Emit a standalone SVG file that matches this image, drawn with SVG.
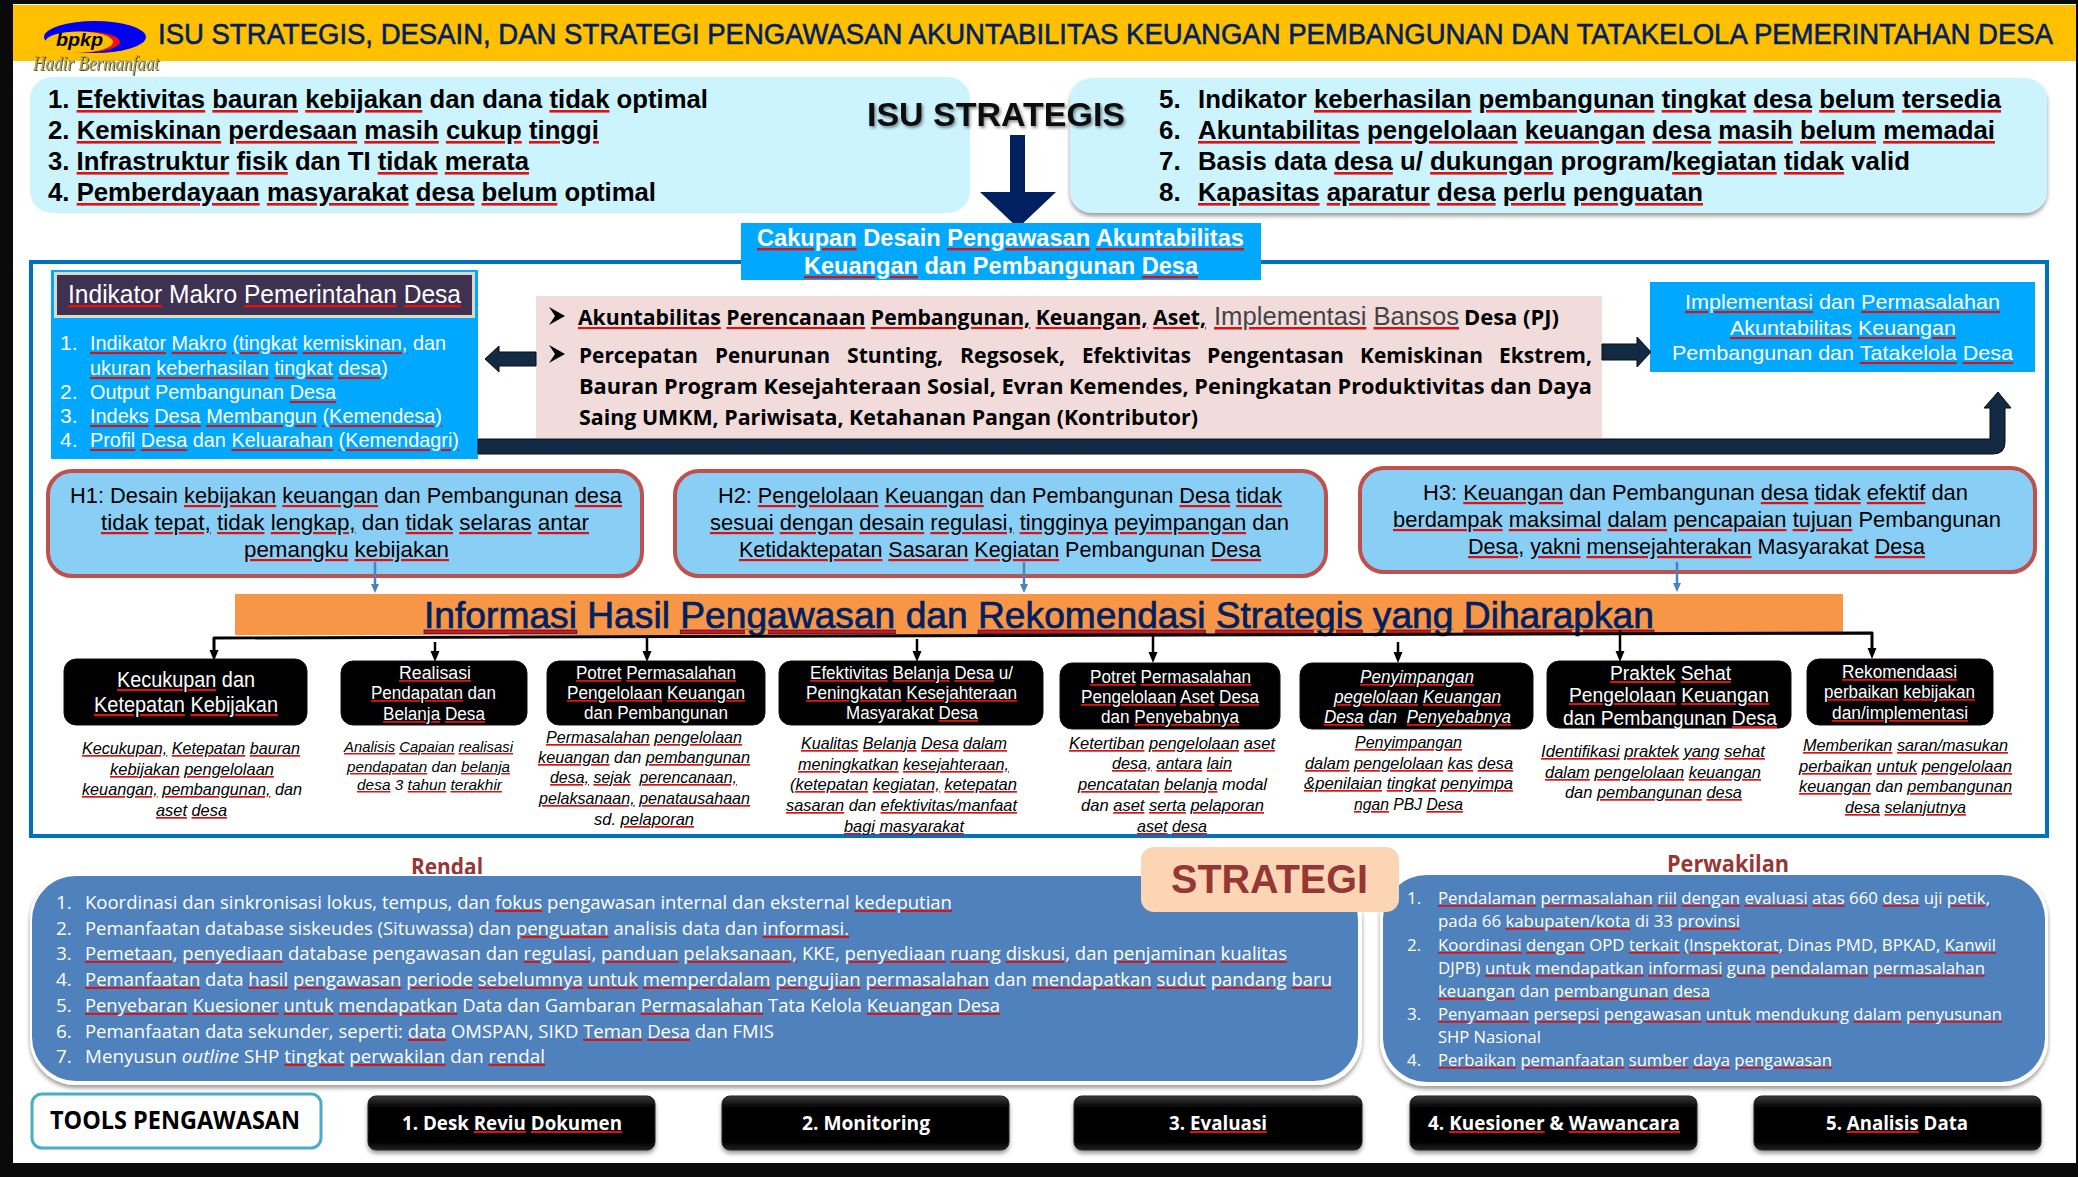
<svg xmlns="http://www.w3.org/2000/svg" width="2078" height="1177" viewBox="0 0 2078 1177">
<style>
text{font-family:"Liberation Sans",Arial,sans-serif;white-space:pre}
.o{font-family:"Open Sans","Noto Sans",sans-serif}
.k{fill:#000}.w{fill:#fff}
.u{text-decoration:underline wavy;text-decoration-thickness:1px;fill:#e01010}
.k .u>tspan{fill:#000}.w .u>tspan{fill:#fff}.n .u>tspan{fill:#002060}.r .u>tspan{fill:#953735}.g .u>tspan{fill:#444}
.n{fill:#002060}.r{fill:#953735}.g{fill:#444}
.iss{font-size:26px;font-weight:700}
.pk{font-size:21px;font-weight:700}
.lp{font-size:21px}
.h{font-size:22px}
.b1{font-size:22px}.b2{font-size:18px}.b7{font-size:20px}
.d{font-size:17px;font-style:italic}
.bl{font-size:19px}.br{font-size:17px}
.tool{font-size:20px;font-weight:700}
.btn{fill:url(#btn);stroke:#222;stroke-width:1;filter:url(#sh)}
.bk{fill:#000;stroke:#111}
.hb{fill:#89CFF5;stroke:#C0504D;stroke-width:4}
.ab{fill:#132A45;stroke:#0a0a0a;stroke-width:1}
</style>
<defs>
<linearGradient id="btn" x1="0" y1="0" x2="0" y2="1"><stop offset="0" stop-color="#3a3a3a"/><stop offset=".2" stop-color="#060606"/><stop offset=".85" stop-color="#000"/><stop offset="1" stop-color="#222"/></linearGradient>
<filter id="sh" x="-10%" y="-10%" width="120%" height="125%"><feDropShadow dx="0" dy="3" stdDeviation="2" flood-color="#000" flood-opacity=".4"/></filter>
<filter id="ts" x="-5%" y="-20%" width="110%" height="150%"><feDropShadow dx="1.500" dy="2" stdDeviation="1.500" flood-color="#000" flood-opacity=".45"/></filter>
<filter id="gs" x="-5%" y="-20%" width="110%" height="150%"><feDropShadow dx="1" dy="1" stdDeviation=".5" flood-color="#222" flood-opacity=".8"/></filter>
</defs>
<rect width="2078" height="1177" fill="#0a0a0a"/>
<rect x="13" y="4" width="2063" height="1159" fill="#fff"/>
<g id="header">
<rect x="13" y="5" width="2063" height="56" fill="#FFC000"/>
<text class="n" transform="translate(158 44) scale(1 1.180)" x="0" y="0" font-size="25" textLength="1895" lengthAdjust="spacingAndGlyphs" stroke="#002060" stroke-width=".5">ISU STRATEGIS, DESAIN, DAN STRATEGI PENGAWASAN AKUNTABILITAS KEUANGAN PEMBANGUNAN DAN TATAKELOLA PEMERINTAHAN DESA</text>
</g>
<g id="logo">
<ellipse cx="95" cy="37" rx="51" ry="16" fill="#0000F0"/>
<ellipse cx="84" cy="42" rx="36" ry="10.500" fill="#F01010"/>
<ellipse cx="79" cy="42" rx="34" ry="10.500" fill="#FFC000"/>
<text x="56" y="46" font-size="18" font-weight="700" font-style="italic" textLength="47" lengthAdjust="spacingAndGlyphs">bpkp</text>
<text x="33" y="70" font-size="22" font-style="italic" style="font-family:'Liberation Serif',serif" fill="#B5A642" filter="url(#gs)" textLength="126" lengthAdjust="spacingAndGlyphs">Hadir Bermanfaat</text>
</g>
<g id="isu-left">
<rect x="30" y="77" width="940" height="136" rx="22" fill="#CCF4FE"/>
<text class="k iss" x="48" y="108" textLength="660" lengthAdjust="spacingAndGlyphs">1. <tspan class="u"><tspan>Efektivitas</tspan></tspan> <tspan class="u"><tspan>bauran</tspan></tspan> <tspan class="u"><tspan>kebijakan</tspan></tspan> dan dana <tspan class="u"><tspan>tidak</tspan></tspan> optimal</text>
<text class="k iss" x="48" y="139" textLength="551" lengthAdjust="spacingAndGlyphs">2. <tspan class="u"><tspan>Kemiskinan</tspan></tspan> <tspan class="u"><tspan>perdesaan</tspan></tspan> <tspan class="u"><tspan>masih</tspan></tspan> <tspan class="u"><tspan>cukup</tspan></tspan> <tspan class="u"><tspan>tinggi</tspan></tspan></text>
<text class="k iss" x="48" y="170" textLength="481" lengthAdjust="spacingAndGlyphs">3. <tspan class="u"><tspan>Infrastruktur</tspan></tspan> <tspan class="u"><tspan>fisik</tspan></tspan> dan TI <tspan class="u"><tspan>tidak</tspan></tspan> <tspan class="u"><tspan>merata</tspan></tspan></text>
<text class="k iss" x="48" y="201" textLength="608" lengthAdjust="spacingAndGlyphs">4. <tspan class="u"><tspan>Pemberdayaan</tspan></tspan> <tspan class="u"><tspan>masyarakat</tspan></tspan> <tspan class="u"><tspan>desa</tspan></tspan> <tspan class="u"><tspan>belum</tspan></tspan> optimal</text>
</g>
<g id="isu-right">
<rect x="1070" y="78" width="977" height="135" rx="22" fill="#CCF4FE" filter="url(#sh)"/>
<text class="k iss" x="1159" y="108">5.</text><text class="k iss" x="1198" y="108" textLength="803" lengthAdjust="spacingAndGlyphs">Indikator <tspan class="u"><tspan>keberhasilan</tspan></tspan> <tspan class="u"><tspan>pembangunan</tspan></tspan> <tspan class="u"><tspan>tingkat</tspan></tspan> <tspan class="u"><tspan>desa</tspan></tspan> <tspan class="u"><tspan>belum</tspan></tspan> <tspan class="u"><tspan>tersedia</tspan></tspan></text>
<text class="k iss" x="1159" y="139">6.</text><text class="k iss" x="1198" y="139" textLength="797" lengthAdjust="spacingAndGlyphs"><tspan class="u"><tspan>Akuntabilitas</tspan></tspan> <tspan class="u"><tspan>pengelolaan</tspan></tspan> <tspan class="u"><tspan>keuangan</tspan></tspan> <tspan class="u"><tspan>desa</tspan></tspan> <tspan class="u"><tspan>masih</tspan></tspan> <tspan class="u"><tspan>belum</tspan></tspan> <tspan class="u"><tspan>memadai</tspan></tspan></text>
<text class="k iss" x="1159" y="170">7.</text><text class="k iss" x="1198" y="170" textLength="712" lengthAdjust="spacingAndGlyphs">Basis data <tspan class="u"><tspan>desa</tspan></tspan> u/ <tspan class="u"><tspan>dukungan</tspan></tspan> program/<tspan class="u"><tspan>kegiatan</tspan></tspan> <tspan class="u"><tspan>tidak</tspan></tspan> valid</text>
<text class="k iss" x="1159" y="201">8.</text><text class="k iss" x="1198" y="201" textLength="505" lengthAdjust="spacingAndGlyphs"><tspan class="u"><tspan>Kapasitas</tspan></tspan> <tspan class="u"><tspan>aparatur</tspan></tspan> <tspan class="u"><tspan>desa</tspan></tspan> <tspan class="u"><tspan>perlu</tspan></tspan> <tspan class="u"><tspan>penguatan</tspan></tspan></text>
</g>
<rect id="frame" x="31" y="262" width="2016" height="574" fill="none" stroke="#0070C0" stroke-width="4"/>
<g id="isu-title">
<text x="867" y="126" font-size="33" font-weight="700" fill="#111" filter="url(#ts)" textLength="258" lengthAdjust="spacingAndGlyphs">ISU STRATEGIS</text>
<path d="M1010,135H1025V192H1056L1018,228 980,192H1010Z" fill="#002060"/>
</g>
<g id="cakupan">
<rect x="741" y="223" width="520" height="57" fill="#00A8FF"/>
<text class="w" x="757" y="246" font-size="24" font-weight="700" textLength="487" lengthAdjust="spacingAndGlyphs"><tspan class="u"><tspan>Cakupan</tspan></tspan> Desain <tspan class="u"><tspan>Pengawasan</tspan></tspan> <tspan class="u"><tspan>Akuntabilitas</tspan></tspan></text>
<text class="w" x="804" y="274" font-size="24" font-weight="700" textLength="394" lengthAdjust="spacingAndGlyphs"><tspan class="u"><tspan>Keuangan</tspan></tspan> dan Pembangunan <tspan class="u"><tspan>Desa</tspan></tspan></text>
</g>
<g id="indikator">
<rect x="51" y="270" width="427" height="189" fill="#00A8FF"/>
<rect x="55.500" y="273.500" width="418" height="43" fill="#3F3151" stroke="#DDD9C3" stroke-width="3"/>
<text class="w" x="68" y="303" font-size="25" textLength="393" lengthAdjust="spacingAndGlyphs"><tspan class="u"><tspan>Indikator</tspan></tspan> Makro <tspan class="u"><tspan>Pemerintahan</tspan></tspan> <tspan class="u"><tspan>Desa</tspan></tspan></text>
<text class="w lp" x="60" y="350">1.</text><text class="w lp" x="90" y="350" textLength="356" lengthAdjust="spacingAndGlyphs"><tspan class="u"><tspan>Indikator</tspan></tspan> <tspan class="u"><tspan>Makro</tspan></tspan> <tspan class="u"><tspan>(tingkat</tspan></tspan> <tspan class="u"><tspan>kemiskinan,</tspan></tspan> dan</text>
<text class="w lp" x="90" y="375" textLength="298" lengthAdjust="spacingAndGlyphs"><tspan class="u"><tspan>ukuran</tspan></tspan> <tspan class="u"><tspan>keberhasilan</tspan></tspan> <tspan class="u"><tspan>tingkat</tspan></tspan> <tspan class="u"><tspan>desa)</tspan></tspan></text>
<text class="w lp" x="60" y="399">2.</text><text class="w lp" x="90" y="399" textLength="246" lengthAdjust="spacingAndGlyphs">Output Pembangunan <tspan class="u"><tspan>Desa</tspan></tspan></text>
<text class="w lp" x="60" y="423">3.</text><text class="w lp" x="90" y="423" textLength="352" lengthAdjust="spacingAndGlyphs"><tspan class="u"><tspan>Indeks</tspan></tspan> <tspan class="u"><tspan>Desa</tspan></tspan> <tspan class="u"><tspan>Membangun</tspan></tspan> <tspan class="u"><tspan>(Kemendesa)</tspan></tspan></text>
<text class="w lp" x="60" y="447">4.</text><text class="w lp" x="90" y="447" textLength="369" lengthAdjust="spacingAndGlyphs"><tspan class="u"><tspan>Profil</tspan></tspan> <tspan class="u"><tspan>Desa</tspan></tspan> dan <tspan class="u"><tspan>Keluarahan</tspan></tspan> <tspan class="u"><tspan>(Kemendagri)</tspan></tspan></text>
</g>
<g id="cakupan-detail">
<rect x="536" y="296" width="1066" height="142" fill="#F2DCDB"/>
<path d="M549,307L565,316 549,325 555,316ZM549,345L565,354 549,363 555,354Z" fill="#000"/>
<text class="k o pk" x="578" y="325" textLength="628" lengthAdjust="spacingAndGlyphs"><tspan class="u"><tspan>Akuntabilitas</tspan></tspan> <tspan class="u"><tspan>Perencanaan</tspan></tspan> <tspan class="u"><tspan>Pembangunan,</tspan></tspan> <tspan class="u"><tspan>Keuangan,</tspan></tspan> <tspan class="u"><tspan>Aset,</tspan></tspan></text>
<text class="g" x="1214" y="325" font-size="25" textLength="245" lengthAdjust="spacingAndGlyphs"><tspan class="u"><tspan>Implementasi</tspan></tspan> <tspan class="u"><tspan>Bansos</tspan></tspan></text>
<text class="k o pk" x="1464" y="325" textLength="95" lengthAdjust="spacingAndGlyphs">Desa (PJ)</text>
<text class="k o pk" x="579" y="363" textLength="119" lengthAdjust="spacingAndGlyphs">Percepatan</text>
<text class="k o pk" x="715" y="363" textLength="115" lengthAdjust="spacingAndGlyphs">Penurunan</text>
<text class="k o pk" x="847" y="363" textLength="96" lengthAdjust="spacingAndGlyphs">Stunting,</text>
<text class="k o pk" x="960" y="363" textLength="105" lengthAdjust="spacingAndGlyphs">Regsosek,</text>
<text class="k o pk" x="1082" y="363" textLength="109" lengthAdjust="spacingAndGlyphs">Efektivitas</text>
<text class="k o pk" x="1207" y="363" textLength="137" lengthAdjust="spacingAndGlyphs">Pengentasan</text>
<text class="k o pk" x="1360" y="363" textLength="123" lengthAdjust="spacingAndGlyphs">Kemiskinan</text>
<text class="k o pk" x="1499" y="363" textLength="93" lengthAdjust="spacingAndGlyphs">Ekstrem,</text>
<text class="k o pk" x="579" y="394" textLength="1013" lengthAdjust="spacingAndGlyphs">Bauran Program Kesejahteraan Sosial, Evran Kemendes, Peningkatan Produktivitas dan Daya</text>
<text class="k o pk" x="579" y="425" textLength="619" lengthAdjust="spacingAndGlyphs">Saing UMKM, Pariwisata, Ketahanan Pangan (Kontributor)</text>
</g>
<g id="implementasi">
<rect x="1650" y="282" width="385" height="90" fill="#00A8FF"/>
<text class="w lp" x="1685" y="309" textLength="315" lengthAdjust="spacingAndGlyphs"><tspan class="u"><tspan>Implementasi</tspan></tspan> dan <tspan class="u"><tspan>Permasalahan</tspan></tspan></text>
<text class="w lp" x="1730" y="335" textLength="226" lengthAdjust="spacingAndGlyphs"><tspan class="u"><tspan>Akuntabilitas</tspan></tspan> <tspan class="u"><tspan>Keuangan</tspan></tspan></text>
<text class="w lp" x="1672" y="360" textLength="341" lengthAdjust="spacingAndGlyphs">Pembangunan dan <tspan class="u"><tspan>Tatakelola</tspan></tspan> <tspan class="u"><tspan>Desa</tspan></tspan></text>
</g>
<g id="h1">
<rect class="hb" x="48" y="471" width="594" height="105" rx="24"/>
<text class="k h" x="70" y="503" textLength="552" lengthAdjust="spacingAndGlyphs">H1: Desain <tspan class="u"><tspan>kebijakan</tspan></tspan> <tspan class="u"><tspan>keuangan</tspan></tspan> dan Pembangunan <tspan class="u"><tspan>desa</tspan></tspan></text>
<text class="k h" x="101" y="530" textLength="488" lengthAdjust="spacingAndGlyphs"><tspan class="u"><tspan>tidak</tspan></tspan> <tspan class="u"><tspan>tepat,</tspan></tspan> <tspan class="u"><tspan>tidak</tspan></tspan> <tspan class="u"><tspan>lengkap,</tspan></tspan> dan <tspan class="u"><tspan>tidak</tspan></tspan> <tspan class="u"><tspan>selaras</tspan></tspan> <tspan class="u"><tspan>antar</tspan></tspan></text>
<text class="k h" x="244" y="557" textLength="205" lengthAdjust="spacingAndGlyphs"><tspan class="u"><tspan>pemangku</tspan></tspan> <tspan class="u"><tspan>kebijakan</tspan></tspan></text>
</g>
<g id="h2">
<rect class="hb" x="675" y="471" width="651" height="105" rx="24"/>
<text class="k h" x="718" y="503" textLength="564" lengthAdjust="spacingAndGlyphs">H2: <tspan class="u"><tspan>Pengelolaan</tspan></tspan> <tspan class="u"><tspan>Keuangan</tspan></tspan> dan Pembangunan <tspan class="u"><tspan>Desa</tspan></tspan> <tspan class="u"><tspan>tidak</tspan></tspan></text>
<text class="k h" x="710" y="530" textLength="579" lengthAdjust="spacingAndGlyphs"><tspan class="u"><tspan>sesuai</tspan></tspan> <tspan class="u"><tspan>dengan</tspan></tspan> <tspan class="u"><tspan>desain</tspan></tspan> <tspan class="u"><tspan>regulasi,</tspan></tspan> <tspan class="u"><tspan>tingginya</tspan></tspan> <tspan class="u"><tspan>peyimpangan</tspan></tspan> dan</text>
<text class="k h" x="739" y="557" textLength="522" lengthAdjust="spacingAndGlyphs"><tspan class="u"><tspan>Ketidaktepatan</tspan></tspan> <tspan class="u"><tspan>Sasaran</tspan></tspan> <tspan class="u"><tspan>Kegiatan</tspan></tspan> Pembangunan <tspan class="u"><tspan>Desa</tspan></tspan></text>
</g>
<g id="h3">
<rect class="hb" x="1360" y="468" width="675" height="104" rx="24"/>
<text class="k h" x="1423" y="500" textLength="545" lengthAdjust="spacingAndGlyphs">H3: <tspan class="u"><tspan>Keuangan</tspan></tspan> dan Pembangunan <tspan class="u"><tspan>desa</tspan></tspan> <tspan class="u"><tspan>tidak</tspan></tspan> <tspan class="u"><tspan>efektif</tspan></tspan> dan</text>
<text class="k h" x="1393" y="527" textLength="608" lengthAdjust="spacingAndGlyphs"><tspan class="u"><tspan>berdampak</tspan></tspan> <tspan class="u"><tspan>maksimal</tspan></tspan> <tspan class="u"><tspan>dalam</tspan></tspan> <tspan class="u"><tspan>pencapaian</tspan></tspan> <tspan class="u"><tspan>tujuan</tspan></tspan> Pembangunan</text>
<text class="k h" x="1468" y="554" textLength="457" lengthAdjust="spacingAndGlyphs"><tspan class="u"><tspan>Desa,</tspan></tspan> <tspan class="u"><tspan>yakni</tspan></tspan> <tspan class="u"><tspan>mensejahterakan</tspan></tspan> Masyarakat <tspan class="u"><tspan>Desa</tspan></tspan></text>
</g>
<g id="informasi">
<rect x="235" y="594" width="1608" height="41" fill="#F79646"/>
<text class="n" x="424" y="628" font-size="37" stroke="#002060" stroke-width=".7" textLength="1230" lengthAdjust="spacingAndGlyphs"><tspan class="u"><tspan>Informasi</tspan></tspan> Hasil <tspan class="u"><tspan>Pengawasan</tspan></tspan> dan <tspan class="u"><tspan>Rekomendasi</tspan></tspan> <tspan class="u"><tspan>Strategis</tspan></tspan> <tspan class="u"><tspan>yang</tspan></tspan> <tspan class="u"><tspan>Diharapkan</tspan></tspan></text>
</g>
<g id="connectors">
<path class="ab" d="M536,352H499V346L485,359 499,372V366H536Z"/>
<path class="ab" d="M1602,344H1637V337L1651,352 1637,367V360H1602Z"/>
<path class="ab" d="M478,439H1990V408H1984L1998,392 2011,408H2005V442Q2005,454 1993,454H478Z"/>
<path d="M375,562V586M1024,562V586M1677,562V586" stroke="#4F81BD" stroke-width="2.500" fill="none"/>
<path d="M371,584H379L375,593ZM1020,584H1028L1024,593ZM1673,583H1681L1677,592Z" fill="#4F81BD"/>
<path d="M214,652V638L1872,633V652" stroke="#000" stroke-width="3" stroke-linejoin="round" fill="none"/>
<path d="M435,642V655M647,637V655M917,639V655M1153,633V656M1398,642V656M1620,630V655" stroke="#000" stroke-width="2.500" fill="none"/>
<path d="M209.500,650H218.500L214,661ZM430.500,651H439.500L435,662ZM642.500,651H651.500L647,662ZM912.500,651H921.500L917,662ZM1148.500,652H1157.500L1153,663ZM1393.500,652H1402.500L1398,663ZM1615.500,651H1624.500L1620,662ZM1867.500,648H1876.500L1872,659Z" fill="#000"/>
</g>
<g id="item1">
<rect class="bk" x="64" y="659" width="243" height="66" rx="12"/>
<text class="w b1" x="117" y="687" textLength="138" lengthAdjust="spacingAndGlyphs"><tspan class="u"><tspan>Kecukupan</tspan></tspan> dan</text>
<text class="w b1" x="94" y="712" textLength="184" lengthAdjust="spacingAndGlyphs"><tspan class="u"><tspan>Ketepatan</tspan></tspan> <tspan class="u"><tspan>Kebijakan</tspan></tspan></text>
<text class="k d" x="82" y="754" textLength="218" lengthAdjust="spacingAndGlyphs"><tspan class="u"><tspan>Kecukupan,</tspan></tspan> <tspan class="u"><tspan>Ketepatan</tspan></tspan> <tspan class="u"><tspan>bauran</tspan></tspan></text>
<text class="k d" x="110" y="775" textLength="164" lengthAdjust="spacingAndGlyphs"><tspan class="u"><tspan>kebijakan</tspan></tspan> <tspan class="u"><tspan>pengelolaan</tspan></tspan></text>
<text class="k d" x="82" y="795" textLength="220" lengthAdjust="spacingAndGlyphs"><tspan class="u"><tspan>keuangan,</tspan></tspan> <tspan class="u"><tspan>pembangunan,</tspan></tspan> dan</text>
<text class="k d" x="156" y="816" textLength="71" lengthAdjust="spacingAndGlyphs"><tspan class="u"><tspan>aset</tspan></tspan> <tspan class="u"><tspan>desa</tspan></tspan></text>
</g>
<g id="item2">
<rect class="bk" x="341" y="661" width="186" height="64" rx="12"/>
<text class="w b2" x="399" y="679" textLength="72" lengthAdjust="spacingAndGlyphs"><tspan class="u"><tspan>Realisasi</tspan></tspan></text>
<text class="w b2" x="371" y="699" textLength="125" lengthAdjust="spacingAndGlyphs"><tspan class="u"><tspan>Pendapatan</tspan></tspan> dan</text>
<text class="w b2" x="383" y="720" textLength="102" lengthAdjust="spacingAndGlyphs"><tspan class="u"><tspan>Belanja</tspan></tspan> <tspan class="u"><tspan>Desa</tspan></tspan></text>
<text class="k d" x="344" y="752" textLength="169" lengthAdjust="spacingAndGlyphs" style="font-size:15px"><tspan class="u"><tspan>Analisis</tspan></tspan> <tspan class="u"><tspan>Capaian</tspan></tspan> <tspan class="u"><tspan>realisasi</tspan></tspan></text>
<text class="k d" x="347" y="772" textLength="163" lengthAdjust="spacingAndGlyphs" style="font-size:15px"><tspan class="u"><tspan>pendapatan</tspan></tspan> dan <tspan class="u"><tspan>belanja</tspan></tspan></text>
<text class="k d" x="357" y="790" textLength="145" lengthAdjust="spacingAndGlyphs" style="font-size:15px"><tspan class="u"><tspan>desa</tspan></tspan> 3 <tspan class="u"><tspan>tahun</tspan></tspan> <tspan class="u"><tspan>terakhir</tspan></tspan></text>
</g>
<g id="item3">
<rect class="bk" x="547" y="661" width="218" height="64" rx="12"/>
<text class="w b2" x="576" y="679" textLength="160" lengthAdjust="spacingAndGlyphs"><tspan class="u"><tspan>Potret</tspan></tspan> <tspan class="u"><tspan>Permasalahan</tspan></tspan></text>
<text class="w b2" x="567" y="699" textLength="178" lengthAdjust="spacingAndGlyphs"><tspan class="u"><tspan>Pengelolaan</tspan></tspan> <tspan class="u"><tspan>Keuangan</tspan></tspan></text>
<text class="w b2" x="584" y="719" textLength="144" lengthAdjust="spacingAndGlyphs">dan Pembangunan</text>
<text class="k d" x="546" y="743" textLength="196" lengthAdjust="spacingAndGlyphs"><tspan class="u"><tspan>Permasalahan</tspan></tspan> <tspan class="u"><tspan>pengelolaan</tspan></tspan></text>
<text class="k d" x="538" y="763" textLength="212" lengthAdjust="spacingAndGlyphs"><tspan class="u"><tspan>keuangan</tspan></tspan> dan <tspan class="u"><tspan>pembangunan</tspan></tspan></text>
<text class="k d" x="550" y="783" textLength="187" lengthAdjust="spacingAndGlyphs"><tspan class="u"><tspan>desa,</tspan></tspan> <tspan class="u"><tspan>sejak</tspan></tspan>  <tspan class="u"><tspan>perencanaan,</tspan></tspan></text>
<text class="k d" x="539" y="804" textLength="211" lengthAdjust="spacingAndGlyphs"><tspan class="u"><tspan>pelaksanaan,</tspan></tspan> <tspan class="u"><tspan>penatausahaan</tspan></tspan></text>
<text class="k d" x="594" y="825" textLength="100" lengthAdjust="spacingAndGlyphs">sd. <tspan class="u"><tspan>pelaporan</tspan></tspan></text>
</g>
<g id="item4">
<rect class="bk" x="779" y="661" width="264" height="64" rx="12"/>
<text class="w b2" x="810" y="679" textLength="203" lengthAdjust="spacingAndGlyphs"><tspan class="u"><tspan>Efektivitas</tspan></tspan> <tspan class="u"><tspan>Belanja</tspan></tspan> <tspan class="u"><tspan>Desa</tspan></tspan> u/</text>
<text class="w b2" x="806" y="699" textLength="211" lengthAdjust="spacingAndGlyphs"><tspan class="u"><tspan>Peningkatan</tspan></tspan> <tspan class="u"><tspan>Kesejahteraan</tspan></tspan></text>
<text class="w b2" x="846" y="719" textLength="132" lengthAdjust="spacingAndGlyphs">Masyarakat <tspan class="u"><tspan>Desa</tspan></tspan></text>
<text class="k d" x="801" y="749" textLength="206" lengthAdjust="spacingAndGlyphs"><tspan class="u"><tspan>Kualitas</tspan></tspan> <tspan class="u"><tspan>Belanja</tspan></tspan> <tspan class="u"><tspan>Desa</tspan></tspan> <tspan class="u"><tspan>dalam</tspan></tspan></text>
<text class="k d" x="798" y="770" textLength="211" lengthAdjust="spacingAndGlyphs"><tspan class="u"><tspan>meningkatkan</tspan></tspan> <tspan class="u"><tspan>kesejahteraan,</tspan></tspan></text>
<text class="k d" x="790" y="790" textLength="227" lengthAdjust="spacingAndGlyphs"><tspan class="u"><tspan>(ketepatan</tspan></tspan> <tspan class="u"><tspan>kegiatan,</tspan></tspan> <tspan class="u"><tspan>ketepatan</tspan></tspan></text>
<text class="k d" x="786" y="811" textLength="231" lengthAdjust="spacingAndGlyphs"><tspan class="u"><tspan>sasaran</tspan></tspan> dan <tspan class="u"><tspan>efektivitas/manfaat</tspan></tspan></text>
<text class="k d" x="844" y="832" textLength="120" lengthAdjust="spacingAndGlyphs"><tspan class="u"><tspan>bagi</tspan></tspan> <tspan class="u"><tspan>masyarakat</tspan></tspan></text>
</g>
<g id="item5">
<rect class="bk" x="1060" y="663" width="220" height="66" rx="12"/>
<text class="w b2" x="1090" y="683" textLength="161" lengthAdjust="spacingAndGlyphs"><tspan class="u"><tspan>Potret</tspan></tspan> <tspan class="u"><tspan>Permasalahan</tspan></tspan></text>
<text class="w b2" x="1081" y="703" textLength="178" lengthAdjust="spacingAndGlyphs"><tspan class="u"><tspan>Pengelolaan</tspan></tspan> <tspan class="u"><tspan>Aset</tspan></tspan> <tspan class="u"><tspan>Desa</tspan></tspan></text>
<text class="w b2" x="1101" y="723" textLength="138" lengthAdjust="spacingAndGlyphs">dan <tspan class="u"><tspan>Penyebabnya</tspan></tspan></text>
<text class="k d" x="1069" y="749" textLength="206" lengthAdjust="spacingAndGlyphs"><tspan class="u"><tspan>Ketertiban</tspan></tspan> <tspan class="u"><tspan>pengelolaan</tspan></tspan> <tspan class="u"><tspan>aset</tspan></tspan></text>
<text class="k d" x="1112" y="769" textLength="120" lengthAdjust="spacingAndGlyphs"><tspan class="u"><tspan>desa,</tspan></tspan> <tspan class="u"><tspan>antara</tspan></tspan> <tspan class="u"><tspan>lain</tspan></tspan></text>
<text class="k d" x="1078" y="790" textLength="189" lengthAdjust="spacingAndGlyphs"><tspan class="u"><tspan>pencatatan</tspan></tspan> <tspan class="u"><tspan>belanja</tspan></tspan> modal</text>
<text class="k d" x="1081" y="811" textLength="183" lengthAdjust="spacingAndGlyphs">dan <tspan class="u"><tspan>aset</tspan></tspan> <tspan class="u"><tspan>serta</tspan></tspan> <tspan class="u"><tspan>pelaporan</tspan></tspan></text>
<text class="k d" x="1137" y="832" textLength="70" lengthAdjust="spacingAndGlyphs"><tspan class="u"><tspan>aset</tspan></tspan> <tspan class="u"><tspan>desa</tspan></tspan></text>
</g>
<g id="item6">
<rect class="bk" x="1300" y="663" width="233" height="66" rx="12"/>
<text class="w b2" font-style="italic" x="1360" y="683" textLength="114" lengthAdjust="spacingAndGlyphs"><tspan class="u"><tspan>Penyimpangan</tspan></tspan></text>
<text class="w b2" font-style="italic" x="1334" y="703" textLength="167" lengthAdjust="spacingAndGlyphs"><tspan class="u"><tspan>pegelolaan</tspan></tspan> <tspan class="u"><tspan>Keuangan</tspan></tspan></text>
<text class="w b2" font-style="italic" x="1324" y="723" textLength="187" lengthAdjust="spacingAndGlyphs"><tspan class="u"><tspan>Desa</tspan></tspan> dan  <tspan class="u"><tspan>Penyebabnya</tspan></tspan></text>
<text class="k d" x="1355" y="748" textLength="107" lengthAdjust="spacingAndGlyphs"><tspan class="u"><tspan>Penyimpangan</tspan></tspan></text>
<text class="k d" x="1305" y="769" textLength="208" lengthAdjust="spacingAndGlyphs"><tspan class="u"><tspan>dalam</tspan></tspan> <tspan class="u"><tspan>pengelolaan</tspan></tspan> <tspan class="u"><tspan>kas</tspan></tspan> <tspan class="u"><tspan>desa</tspan></tspan></text>
<text class="k d" x="1304" y="789" textLength="209" lengthAdjust="spacingAndGlyphs"><tspan class="u"><tspan>&amp;penilaian</tspan></tspan> <tspan class="u"><tspan>tingkat</tspan></tspan> <tspan class="u"><tspan>penyimpa</tspan></tspan></text>
<text class="k d" x="1354" y="810" textLength="109" lengthAdjust="spacingAndGlyphs"><tspan class="u"><tspan>ngan</tspan></tspan> PBJ <tspan class="u"><tspan>Desa</tspan></tspan></text>
</g>
<g id="item7">
<rect class="bk" x="1547" y="661" width="244" height="67" rx="12"/>
<text class="w b7" x="1610" y="680" textLength="121" lengthAdjust="spacingAndGlyphs"><tspan class="u"><tspan>Praktek</tspan></tspan> <tspan class="u"><tspan>Sehat</tspan></tspan></text>
<text class="w b7" x="1569" y="702" textLength="200" lengthAdjust="spacingAndGlyphs"><tspan class="u"><tspan>Pengelolaan</tspan></tspan> <tspan class="u"><tspan>Keuangan</tspan></tspan></text>
<text class="w b7" x="1563" y="725" textLength="214" lengthAdjust="spacingAndGlyphs">dan Pembangunan <tspan class="u"><tspan>Desa</tspan></tspan></text>
<text class="k d" x="1541" y="757" textLength="224" lengthAdjust="spacingAndGlyphs"><tspan class="u"><tspan>Identifikasi</tspan></tspan> <tspan class="u"><tspan>praktek</tspan></tspan> <tspan class="u"><tspan>yang</tspan></tspan> <tspan class="u"><tspan>sehat</tspan></tspan></text>
<text class="k d" x="1545" y="778" textLength="216" lengthAdjust="spacingAndGlyphs"><tspan class="u"><tspan>dalam</tspan></tspan> <tspan class="u"><tspan>pengelolaan</tspan></tspan> <tspan class="u"><tspan>keuangan</tspan></tspan></text>
<text class="k d" x="1565" y="798" textLength="177" lengthAdjust="spacingAndGlyphs">dan <tspan class="u"><tspan>pembangunan</tspan></tspan> <tspan class="u"><tspan>desa</tspan></tspan></text>
</g>
<g id="item8">
<rect class="bk" x="1807" y="659" width="186" height="66" rx="12"/>
<text class="w b2" x="1842" y="678" textLength="115" lengthAdjust="spacingAndGlyphs"><tspan class="u"><tspan>Rekomendaasi</tspan></tspan></text>
<text class="w b2" x="1824" y="698" textLength="151" lengthAdjust="spacingAndGlyphs"><tspan class="u"><tspan>perbaikan</tspan></tspan> <tspan class="u"><tspan>kebijakan</tspan></tspan></text>
<text class="w b2" x="1832" y="719" textLength="136" lengthAdjust="spacingAndGlyphs"><tspan class="u"><tspan>dan/implementasi</tspan></tspan></text>
<text class="k d" x="1803" y="751" textLength="205" lengthAdjust="spacingAndGlyphs"><tspan class="u"><tspan>Memberikan</tspan></tspan> <tspan class="u"><tspan>saran/masukan</tspan></tspan></text>
<text class="k d" x="1799" y="772" textLength="213" lengthAdjust="spacingAndGlyphs"><tspan class="u"><tspan>perbaikan</tspan></tspan> <tspan class="u"><tspan>untuk</tspan></tspan> <tspan class="u"><tspan>pengelolaan</tspan></tspan></text>
<text class="k d" x="1799" y="792" textLength="213" lengthAdjust="spacingAndGlyphs"><tspan class="u"><tspan>keuangan</tspan></tspan> dan <tspan class="u"><tspan>pembangunan</tspan></tspan></text>
<text class="k d" x="1845" y="813" textLength="121" lengthAdjust="spacingAndGlyphs"><tspan class="u"><tspan>desa</tspan></tspan> <tspan class="u"><tspan>selanjutnya</tspan></tspan></text>
</g>
<g id="rendal">
<text class="r o" x="411" y="875" font-size="23" font-weight="700" textLength="72" lengthAdjust="spacingAndGlyphs">Rendal</text>
<rect x="30" y="874" width="1332" height="211" rx="46" fill="#fff" filter="url(#sh)"/>
<rect x="32" y="876" width="1326" height="205" rx="44" fill="#4F81BD"/>
<text class="w o bl" x="56" y="909">1.</text><text class="w o bl" x="85" y="909" textLength="867" lengthAdjust="spacingAndGlyphs">Koordinasi dan sinkronisasi lokus, tempus, dan <tspan class="u"><tspan>fokus</tspan></tspan> pengawasan internal dan eksternal <tspan class="u"><tspan>kedeputian</tspan></tspan></text>
<text class="w o bl" x="56" y="935">2.</text><text class="w o bl" x="85" y="935" textLength="764" lengthAdjust="spacingAndGlyphs">Pemanfaatan database siskeudes (Situwassa) dan <tspan class="u"><tspan>penguatan</tspan></tspan> analisis data dan <tspan class="u"><tspan>informasi.</tspan></tspan></text>
<text class="w o bl" x="56" y="960">3.</text><text class="w o bl" x="85" y="960" textLength="1202" lengthAdjust="spacingAndGlyphs"><tspan class="u"><tspan>Pemetaan,</tspan></tspan> <tspan class="u"><tspan>penyediaan</tspan></tspan> database pengawasan dan <tspan class="u"><tspan>regulasi,</tspan></tspan> <tspan class="u"><tspan>panduan</tspan></tspan> <tspan class="u"><tspan>pelaksanaan,</tspan></tspan> KKE, <tspan class="u"><tspan>penyediaan</tspan></tspan> <tspan class="u"><tspan>ruang</tspan></tspan> <tspan class="u"><tspan>diskusi,</tspan></tspan> dan <tspan class="u"><tspan>penjaminan</tspan></tspan> <tspan class="u"><tspan>kualitas</tspan></tspan></text>
<text class="w o bl" x="56" y="986">4.</text><text class="w o bl" x="85" y="986" textLength="1247" lengthAdjust="spacingAndGlyphs"><tspan class="u"><tspan>Pemanfaatan</tspan></tspan> data <tspan class="u"><tspan>hasil</tspan></tspan> <tspan class="u"><tspan>pengawasan</tspan></tspan> <tspan class="u"><tspan>periode</tspan></tspan> <tspan class="u"><tspan>sebelumnya</tspan></tspan> <tspan class="u"><tspan>untuk</tspan></tspan> <tspan class="u"><tspan>memperdalam</tspan></tspan> <tspan class="u"><tspan>pengujian</tspan></tspan> <tspan class="u"><tspan>permasalahan</tspan></tspan> dan <tspan class="u"><tspan>mendapatkan</tspan></tspan> <tspan class="u"><tspan>sudut</tspan></tspan> <tspan class="u"><tspan>pandang</tspan></tspan> <tspan class="u"><tspan>baru</tspan></tspan></text>
<text class="w o bl" x="56" y="1012">5.</text><text class="w o bl" x="85" y="1012" textLength="915" lengthAdjust="spacingAndGlyphs"><tspan class="u"><tspan>Penyebaran</tspan></tspan> <tspan class="u"><tspan>Kuesioner</tspan></tspan> <tspan class="u"><tspan>untuk</tspan></tspan> <tspan class="u"><tspan>mendapatkan</tspan></tspan> Data dan Gambaran <tspan class="u"><tspan>Permasalahan</tspan></tspan> Tata Kelola <tspan class="u"><tspan>Keuangan</tspan></tspan> <tspan class="u"><tspan>Desa</tspan></tspan></text>
<text class="w o bl" x="56" y="1038">6.</text><text class="w o bl" x="85" y="1038" textLength="689" lengthAdjust="spacingAndGlyphs">Pemanfaatan data sekunder, seperti: <tspan class="u"><tspan>data</tspan></tspan> OMSPAN, SIKD <tspan class="u"><tspan>Teman</tspan></tspan> <tspan class="u"><tspan>Desa</tspan></tspan> dan FMIS</text>
<text class="w o bl" x="56" y="1063">7.</text><text class="w o bl" x="85" y="1063" textLength="460" lengthAdjust="spacingAndGlyphs">Menyusun <tspan font-style="italic">outline</tspan> SHP <tspan class="u"><tspan>tingkat</tspan></tspan> <tspan class="u"><tspan>perwakilan</tspan></tspan> dan <tspan class="u"><tspan>rendal</tspan></tspan></text>
</g>
<g id="perwakilan">
<text class="r o" x="1667" y="872" font-size="23" font-weight="700" textLength="122" lengthAdjust="spacingAndGlyphs"><tspan class="u"><tspan>Perwakilan</tspan></tspan></text>
<rect x="1380" y="872" width="668" height="214" rx="46" fill="#fff" filter="url(#sh)"/>
<rect x="1383" y="875" width="662" height="207" rx="44" fill="#4F81BD"/>
<text class="w o br" x="1407" y="904">1.</text><text class="w o br" x="1438" y="904" textLength="552" lengthAdjust="spacingAndGlyphs"><tspan class="u"><tspan>Pendalaman</tspan></tspan> <tspan class="u"><tspan>permasalahan</tspan></tspan> <tspan class="u"><tspan>riil</tspan></tspan> <tspan class="u"><tspan>dengan</tspan></tspan> <tspan class="u"><tspan>evaluasi</tspan></tspan> <tspan class="u"><tspan>atas</tspan></tspan> 660 <tspan class="u"><tspan>desa</tspan></tspan> uji <tspan class="u"><tspan>petik,</tspan></tspan></text>
<text class="w o br" x="1438" y="927" textLength="302" lengthAdjust="spacingAndGlyphs">pada 66 <tspan class="u"><tspan>kabupaten/kota</tspan></tspan> di 33 <tspan class="u"><tspan>provinsi</tspan></tspan></text>
<text class="w o br" x="1407" y="951">2.</text><text class="w o br" x="1438" y="951" textLength="558" lengthAdjust="spacingAndGlyphs"><tspan class="u"><tspan>Koordinasi</tspan></tspan> <tspan class="u"><tspan>dengan</tspan></tspan> OPD <tspan class="u"><tspan>terkait</tspan></tspan> <tspan class="u"><tspan>(Inspektorat,</tspan></tspan> Dinas PMD, BPKAD, <tspan class="u"><tspan>Kanwil</tspan></tspan></text>
<text class="w o br" x="1438" y="974" textLength="547" lengthAdjust="spacingAndGlyphs">DJPB) <tspan class="u"><tspan>untuk</tspan></tspan> <tspan class="u"><tspan>mendapatkan</tspan></tspan> <tspan class="u"><tspan>informasi</tspan></tspan> <tspan class="u"><tspan>guna</tspan></tspan> <tspan class="u"><tspan>pendalaman</tspan></tspan> <tspan class="u"><tspan>permasalahan</tspan></tspan></text>
<text class="w o br" x="1438" y="997" textLength="272" lengthAdjust="spacingAndGlyphs"><tspan class="u"><tspan>keuangan</tspan></tspan> dan <tspan class="u"><tspan>pembangunan</tspan></tspan> <tspan class="u"><tspan>desa</tspan></tspan></text>
<text class="w o br" x="1407" y="1020">3.</text><text class="w o br" x="1438" y="1020" textLength="564" lengthAdjust="spacingAndGlyphs"><tspan class="u"><tspan>Penyamaan</tspan></tspan> <tspan class="u"><tspan>persepsi</tspan></tspan> <tspan class="u"><tspan>pengawasan</tspan></tspan> <tspan class="u"><tspan>untuk</tspan></tspan> <tspan class="u"><tspan>mendukung</tspan></tspan> <tspan class="u"><tspan>dalam</tspan></tspan> <tspan class="u"><tspan>penyusunan</tspan></tspan></text>
<text class="w o br" x="1438" y="1043" textLength="103" lengthAdjust="spacingAndGlyphs">SHP Nasional</text>
<text class="w o br" x="1407" y="1066">4.</text><text class="w o br" x="1438" y="1066" textLength="394" lengthAdjust="spacingAndGlyphs"><tspan class="u"><tspan>Perbaikan</tspan></tspan> <tspan class="u"><tspan>pemanfaatan</tspan></tspan> <tspan class="u"><tspan>sumber</tspan></tspan> <tspan class="u"><tspan>daya</tspan></tspan> <tspan class="u"><tspan>pengawasan</tspan></tspan></text>
</g>
<g id="strategi">
<rect x="1141" y="847" width="258" height="65" rx="13" fill="#FCD5B5"/>
<text class="r" x="1171" y="893" font-size="40" font-weight="700" textLength="197" lengthAdjust="spacingAndGlyphs">STRATEGI</text>
</g>
<g id="tools">
<rect x="32" y="1094" width="289" height="54" rx="10" fill="#fff" stroke="#4BACC6" stroke-width="3"/>
<text class="k o" x="50" y="1129" font-size="25" font-weight="700" textLength="250" lengthAdjust="spacingAndGlyphs">TOOLS PENGAWASAN</text>
</g>
<g id="tool1"><rect class="btn" x="368" y="1096" width="287" height="54" rx="8"/><text class="w o tool" x="402" y="1130" textLength="220" lengthAdjust="spacingAndGlyphs">1. Desk <tspan class="u"><tspan>Reviu</tspan></tspan> <tspan class="u"><tspan>Dokumen</tspan></tspan></text></g>
<g id="tool2"><rect class="btn" x="722" y="1096" width="287" height="54" rx="8"/><text class="w o tool" x="802" y="1130" textLength="128" lengthAdjust="spacingAndGlyphs">2. Monitoring</text></g>
<g id="tool3"><rect class="btn" x="1074" y="1096" width="288" height="54" rx="8"/><text class="w o tool" x="1169" y="1130" textLength="98" lengthAdjust="spacingAndGlyphs">3. <tspan class="u"><tspan>Evaluasi</tspan></tspan></text></g>
<g id="tool4"><rect class="btn" x="1410" y="1096" width="287" height="54" rx="8"/><text class="w o tool" x="1428" y="1130" textLength="252" lengthAdjust="spacingAndGlyphs">4. <tspan class="u"><tspan>Kuesioner</tspan></tspan> &amp; <tspan class="u"><tspan>Wawancara</tspan></tspan></text></g>
<g id="tool5"><rect class="btn" x="1754" y="1096" width="287" height="54" rx="8"/><text class="w o tool" x="1826" y="1130" textLength="142" lengthAdjust="spacingAndGlyphs">5. <tspan class="u"><tspan>Analisis</tspan></tspan> Data</text></g>
</svg>
